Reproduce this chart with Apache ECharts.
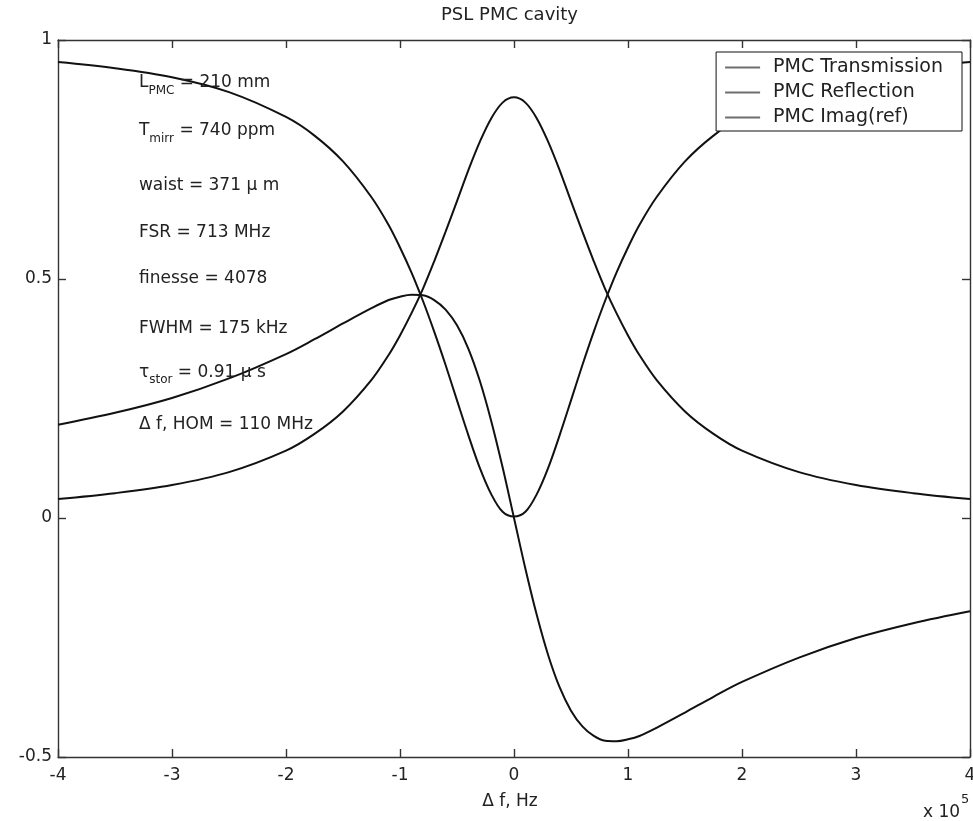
<!DOCTYPE html>
<html>
<head>
<meta charset="utf-8">
<title>PSL PMC cavity</title>
<script src="https://cdn.jsdelivr.net/npm/echarts@6/dist/echarts.min.js"></script>
<style>
html, body { margin: 0; padding: 0; background: #fff; }
#main { width: 973px; height: 821px; }
</style>
</head>
<body>
<div id="main"></div>
<script>
// detuning, in units of 1e5 Hz (axis shows "x 10^5")
var freq = [-4, -3.5, -3, -2.5, -2, -1.75, -1.5, -1.25, -1.1, -1, -0.9, -0.8, -0.7, -0.6, -0.5, -0.4, -0.3, -0.2, -0.1, 0,
            0.1, 0.2, 0.3, 0.4, 0.5, 0.6, 0.7, 0.8, 0.9, 1, 1.1, 1.25, 1.5, 1.75, 2, 2.5, 3, 3.5, 4];

var transmission = [0.040, 0.052, 0.069, 0.096, 0.141, 0.176, 0.223, 0.289, 0.341, 0.382, 0.428, 0.479, 0.537, 0.599, 0.663, 0.728, 0.787, 0.836, 0.869, 0.880,
                    0.869, 0.836, 0.787, 0.728, 0.663, 0.599, 0.537, 0.479, 0.428, 0.382, 0.341, 0.289, 0.223, 0.176, 0.141, 0.096, 0.069, 0.052, 0.040];

var reflection = [0.954, 0.941, 0.922, 0.891, 0.839, 0.800, 0.746, 0.671, 0.613, 0.566, 0.514, 0.455, 0.390, 0.320, 0.246, 0.173, 0.105, 0.050, 0.013, 0.003,
                  0.013, 0.050, 0.105, 0.173, 0.246, 0.320, 0.390, 0.455, 0.514, 0.566, 0.613, 0.671, 0.746, 0.800, 0.839, 0.891, 0.922, 0.941, 0.954];

var imagRef = [0.195, 0.220, 0.251, 0.292, 0.343, 0.374, 0.407, 0.439, 0.456, 0.463, 0.467, 0.466, 0.456, 0.436, 0.403, 0.354, 0.287, 0.203, 0.106, 0.000,
               -0.106, -0.203, -0.287, -0.354, -0.403, -0.436, -0.456, -0.466, -0.467, -0.463, -0.456, -0.439, -0.407, -0.374, -0.343, -0.292, -0.251, -0.220, -0.195];

var seriesNames = ['PMC Transmission', 'PMC Reflection', 'PMC Imag(ref)'];

// text block on the left, y in data units
var noteText = [
    'L{s|PMC} = 210 mm',
    'T{s|mirr} = 740 ppm',
    'waist = 371 \u03bc m',
    'FSR = 713 MHz',
    'finesse = 4078',
    'FWHM = 175 kHz',
    '\u03c4{s|stor} = 0.91 \u03bc s',
    '\u0394 f, HOM = 110 MHz'
];
var noteY = [0.91, 0.81, 0.695, 0.597, 0.5, 0.396, 0.305, 0.195];
var noteX = -3.29;

var FONT = 'DejaVu Sans';
var INK = '#222';

function pairs(ys){
    var out = [];
    for (var i = 0; i < freq.length; i++) out.push([freq[i], ys[i]]);
    return out;
}

function lineSeries(name, ys){
    return {
        name: name,
        type: 'line',
        data: pairs(ys),
        symbol: 'none',
        showSymbol: false,
        smooth: 0.35,
        lineStyle: {color: '#111', width: 2},
        itemStyle: {color: '#111'}
    };
}

var axisLineStyle = {color: '#333', width: 1.4};

var chart = echarts.init(document.getElementById('main'), null, {renderer: 'canvas'});
var option = {
    animation: false,
    backgroundColor: '#fff',
    title: {
        text: 'PSL PMC cavity',
        left: 441,
        top: 6,
        padding: 0,
        textStyle: {fontFamily: FONT, fontSize: 18, fontWeight: 'normal', color: INK}
    },
    legend: {
        data: seriesNames,
        orient: 'vertical',
        right: 11,
        top: 52,
        padding: [6, 19, 4, 9],
        itemGap: 6,
        itemWidth: 35,
        itemHeight: 2,
        icon: 'rect',
        backgroundColor: '#fff',
        borderColor: '#111',
        borderWidth: 1,
        borderRadius: 0,
        itemStyle: {color: '#6e6e6e', borderWidth: 0},
        textStyle: {fontFamily: FONT, fontSize: 19, color: INK, lineHeight: 19, padding: [0, 0, 0, 8]}
    },
    grid: {left: 58, right: 3, top: 40, bottom: 64, containLabel: false, outerBoundsMode: 'none'},
    xAxis: [{
        type: 'value',
        min: -4, max: 4, interval: 1,
        position: 'bottom',
        axisLine: {show: true, onZero: false, lineStyle: axisLineStyle},
        axisTick: {show: true, inside: true, length: 8, lineStyle: axisLineStyle},
        splitLine: {show: false},
        axisLabel: {fontFamily: FONT, fontSize: 17, color: INK, margin: 10},
        name: '\u0394 f, Hz',
        nameLocation: 'middle',
        nameGap: 36,
        nameTextStyle: {fontFamily: FONT, fontSize: 17, color: INK, padding: [0, 8, 0, 0]}
    }, {
        type: 'value',
        min: -4, max: 4, interval: 1,
        position: 'top',
        axisLine: {show: true, onZero: false, lineStyle: axisLineStyle},
        axisTick: {show: true, inside: true, length: 8, lineStyle: axisLineStyle},
        splitLine: {show: false},
        axisLabel: {show: false}
    }],
    yAxis: [{
        type: 'value',
        min: -0.5, max: 1, interval: 0.5,
        position: 'left',
        axisLine: {show: true, onZero: false, lineStyle: axisLineStyle},
        axisTick: {show: true, inside: true, length: 8, lineStyle: axisLineStyle},
        splitLine: {show: false},
        axisLabel: {fontFamily: FONT, fontSize: 17, color: INK, margin: 6}
    }, {
        type: 'value',
        min: -0.5, max: 1, interval: 0.5,
        position: 'right',
        axisLine: {show: true, onZero: false, lineStyle: axisLineStyle},
        axisTick: {show: true, inside: true, length: 8, lineStyle: axisLineStyle},
        splitLine: {show: false},
        axisLabel: {show: false}
    }],
    series: [
        lineSeries(seriesNames[0], transmission),
        lineSeries(seriesNames[1], reflection),
        lineSeries(seriesNames[2], imagRef)
    ]
};
chart.setOption(option);

// annotations placed through the axes
var subStyle = {fontFamily: FONT, fontSize: 12, fill: INK, padding: [16, 0, 0, 0], verticalAlign: 'bottom'};
var graphics = [];
for (var i = 0; i < noteText.length; i++){
    var p = chart.convertToPixel({xAxisIndex: 0, yAxisIndex: 0}, [noteX, noteY[i]]);
    graphics.push({
        type: 'text',
        x: p[0], y: p[1],
        z: 10,
        style: {
            text: noteText[i],
            fontFamily: FONT, fontSize: 17, fill: INK,
            align: 'left', verticalAlign: 'middle',
            textAlign: 'left', textVerticalAlign: 'middle',
            rich: {s: subStyle}
        }
    });
}
// exponent label under the right end of the x axis
var pe = chart.convertToPixel({xAxisIndex: 0, yAxisIndex: 0}, [4, -0.5]);
graphics.push({
    type: 'text',
    x: pe[0] - 47, y: pe[1] + 56,
    style: {
        text: 'x 10{e|5}',
        fontFamily: FONT, fontSize: 17, fill: INK,
        align: 'left', verticalAlign: 'middle',
        textAlign: 'left', textVerticalAlign: 'middle',
        rich: {e: {fontFamily: FONT, fontSize: 13, fill: INK, padding: [0, 0, 26, 1], verticalAlign: 'top'}}
    }
});
chart.setOption({graphic: graphics});
</script>
</body>
</html>
